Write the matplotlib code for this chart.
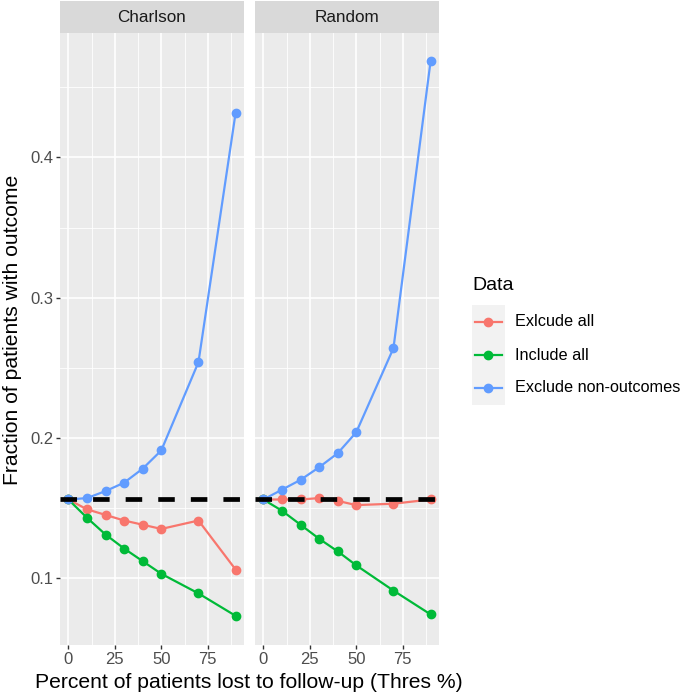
import matplotlib
matplotlib.use("Agg")
import matplotlib.pyplot as plt
from matplotlib.lines import Line2D
from matplotlib.patches import Rectangle

plt.rcParams['font.family'] = ['Liberation Sans', 'DejaVu Sans']

thres = [0, 10, 20, 30, 40, 50, 70, 90]
panels = ["Charlson", "Random"]
series_names = ["Exlcude all", "Include all", "Exclude non-outcomes"]
colors = ["#F8766D", "#00BA38", "#619CFF"]

charlson_exclude_all = [0.156, 0.149, 0.145, 0.141, 0.138, 0.135, 0.141, 0.106]
charlson_include_all = [0.156, 0.143, 0.131, 0.121, 0.112, 0.103, 0.089, 0.073]
charlson_exclude_non = [0.156, 0.157, 0.162, 0.168, 0.178, 0.191, 0.254, 0.432]

random_exclude_all = [0.156, 0.156, 0.156, 0.157, 0.155, 0.152, 0.153, 0.156]
random_include_all = [0.156, 0.148, 0.138, 0.128, 0.119, 0.109, 0.091, 0.074]
random_exclude_non = [0.156, 0.163, 0.170, 0.179, 0.189, 0.204, 0.264, 0.469]

baseline = 0.156
yticks = [0.1, 0.2, 0.3, 0.4]
xticks = [0, 25, 50, 75]

data = {
    "Charlson": [charlson_exclude_all, charlson_include_all, charlson_exclude_non],
    "Random": [random_exclude_all, random_include_all, random_exclude_non],
}

W, H = 685, 697
fig = plt.figure(figsize=(W / 100, H / 100), dpi=100)

panel_left_px = [60, 255]
panel_w_px = 184
top_px, bottom_px = 33, 645
strip_top_px = 1

tick_color = "#4D4D4D"
for i, name in enumerate(panels):
    l = panel_left_px[i] / W
    b = 1 - bottom_px / H
    w = panel_w_px / W
    h = (bottom_px - top_px) / H
    ax = fig.add_axes([l, b, w, h])
    ax.set_facecolor("#EBEBEB")
    ax.set_xlim(-4.5, 94.5)
    ax.set_ylim(0.0522, 0.4888)
    for m in [12.5, 37.5, 62.5, 87.5]:
        ax.axvline(m, color="white", lw=0.6, zorder=0)
    for m in [0.15, 0.25, 0.35, 0.45]:
        ax.axhline(m, color="white", lw=0.6, zorder=0)
    for m in xticks:
        ax.axvline(m, color="white", lw=1.2, zorder=0)
    for m in yticks:
        ax.axhline(m, color="white", lw=1.2, zorder=0)
    for s in ax.spines.values():
        s.set_visible(False)
    for k, vals in enumerate(data[name]):
        ax.plot(thres, vals, color=colors[k], lw=1.6, marker="o", ms=6,
                zorder=3 + k, solid_capstyle="round")
    ax.axhline(baseline, color="black", lw=3.4, dashes=(3.5, 3.4), zorder=10)
    ax.set_xticks(xticks)
    ax.set_xticklabels([str(t) for t in xticks], fontsize=12, color=tick_color)
    ax.tick_params(axis="both", length=3, width=1, color="#333333", pad=2)
    if i == 0:
        ax.set_yticks(yticks)
        ax.set_yticklabels([f"{t:.1f}" for t in yticks], fontsize=12, color=tick_color)
    else:
        ax.set_yticks(yticks)
        ax.tick_params(axis="y", length=0, labelleft=False)
    # strip
    sax = fig.add_axes([l, 1 - top_px / H, w, (top_px - strip_top_px) / H])
    sax.set_facecolor("#D9D9D9")
    sax.set_xticks([]); sax.set_yticks([])
    for s in sax.spines.values():
        s.set_visible(False)
    sax.text(0.5, 0.48, name, ha="center", va="center", fontsize=12.3, color="#1A1A1A",
             transform=sax.transAxes)

fig.text(249 / W, 1 - 682 / H, "Percent of patients lost to follow-up (Thres %)",
         ha="center", va="center", fontsize=15.2, color="black")
fig.text(13 / W, 1 - 330 / H, "Fraction of patients with outcome", rotation=90,
         ha="center", va="center", fontsize=15.2, color="black")

# legend
fig.text(472 / W, 1 - 285 / H, "Data", ha="left", va="center", fontsize=14)
lax = fig.add_axes([0, 0, 1, 1], facecolor="none")
lax.set_xlim(0, W); lax.set_ylim(H, 0); lax.axis("off")
lax.add_patch(Rectangle((472, 305), 33, 100, facecolor="#F2F2F2", edgecolor="none"))
for k, nm in enumerate(series_names):
    y = 322 + k * 33
    lax.add_line(Line2D([475, 502], [y, y], color=colors[k], lw=1.6))
    lax.plot([488.5], [y], marker="o", ms=6, color=colors[k])
    lax.text(515, y, nm, ha="left", va="center", fontsize=11.7)

fig.savefig("out.png", dpi=100)
